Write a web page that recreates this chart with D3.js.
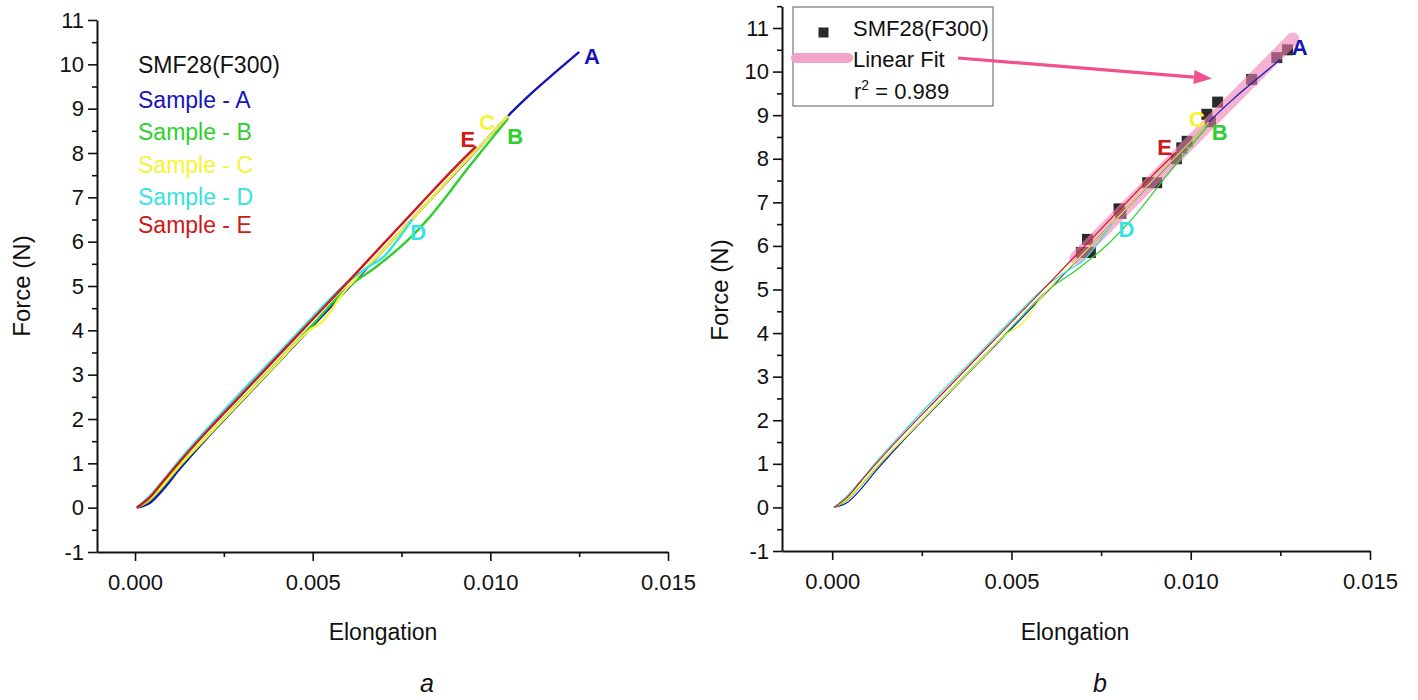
<!DOCTYPE html>
<html><head><meta charset="utf-8">
<script src="https://cdn.jsdelivr.net/npm/d3@7"></script>
<style>
body{margin:0;background:#fff}
svg{display:block}
text{font-family:"Liberation Sans",Arial,sans-serif}
</style>
</head><body>
<svg id="c" width="1418" height="700"></svg>
<script>
// ---------- data ----------
const sampleNames = ["Sample - A","Sample - B","Sample - C","Sample - D","Sample - E"];
const sampleLetters = ["A","B","C","D","E"];
const sampleColors = ["#1616b8","#2ed02e","#f4f430","#36e2e2","#d01818"];

const sampleA = [[0.00005,0],[0.0004,0.1],[0.0008,0.42],[0.0012,0.82],[0.002,1.55],[0.003,2.4],[0.004,3.25],[0.005,4.1],[0.006,4.95],[0.007,5.82],[0.008,6.68],[0.009,7.54],[0.0100,8.4],[0.0106,8.92],[0.0112,9.38],[0.0118,9.8],[0.0125,10.28]];
const sampleB = [[0.00005,0],[0.0004,0.16],[0.0008,0.5],[0.0012,0.88],[0.002,1.58],[0.003,2.43],[0.004,3.28],[0.005,4.13],[0.006,4.98],[0.0068,5.44],[0.0077,6.05],[0.0083,6.56],[0.0094,7.69],[0.0105,8.78]];
const sampleC = [[0.00005,0],[0.0004,0.18],[0.0008,0.52],[0.0012,0.9],[0.002,1.58],[0.003,2.42],[0.004,3.26],[0.0049,4.0],[0.0053,4.22],[0.0058,4.78],[0.007,5.82],[0.008,6.68],[0.009,7.55],[0.0100,8.4],[0.0105,8.84]];
const sampleD = [[0.00005,0],[0.0004,0.25],[0.0008,0.62],[0.0012,1.02],[0.002,1.75],[0.003,2.62],[0.004,3.45],[0.005,4.3],[0.006,5.1],[0.0066,5.45],[0.007,5.66],[0.0074,6.05],[0.0078,6.5]];
const sampleE = [[0.00005,0],[0.0004,0.22],[0.0008,0.6],[0.0012,0.98],[0.002,1.7],[0.003,2.55],[0.004,3.4],[0.005,4.25],[0.006,5.1],[0.007,5.96],[0.008,6.82],[0.009,7.67],[0.0096,8.15]];
const sampleSeries = [sampleA, sampleB, sampleC, sampleD, sampleE];

// end-label positions (data coords) for each panel
const labelPosA = [[0.01286,10.17],[0.0107,8.37],[0.00991,8.68],[0.00797,6.2],[0.00937,8.3]];
const labelPosB = [[0.01304,10.55],[0.01081,8.6],[0.01017,8.9],[0.00821,6.38],[0.00927,8.26]];

// SMF28(F300) points and linear fit (panel b)
const fitPoints = [[0.00695,5.85],[0.00712,6.15],[0.0072,5.85],[0.0080,6.85],[0.00805,6.75],[0.0088,7.45],[0.00905,7.45],[0.0096,8.0],[0.00975,8.25],[0.0099,8.4],[0.01045,9.02],[0.01055,8.85],[0.01075,9.3],[0.0117,9.82],[0.0124,10.32],[0.0127,10.5]];
const fitLine = [[0.0068,5.72],[0.01285,10.75]];
const fitR2 = "0.989";
const arrowTip = [0.01059,9.84];

const xTicks = [0,0.005,0.010,0.015];
const xMinor = [0.0025,0.0075,0.0125];
const yTicks = [-1,0,1,2,3,4,5,6,7,8,9,10,11];
const yMinorA = [-0.5,0.5,1.5,2.5,3.5,4.5,5.5,6.5,7.5,8.5,9.5,10.5];
const yMinorB = [-0.5,0.5,1.5,2.5,3.5,4.5,5.5,6.5,7.5,8.5,9.5,10.5,11.5];

// ---------- drawing ----------
const svg = d3.select("#c");
const font = '"Liberation Sans",Arial,sans-serif';

function panel(cfg){
  const g = svg.append("g");
  const x = d3.scaleLinear().domain(cfg.xd).range(cfg.xr);
  const y = d3.scaleLinear().domain(cfg.yd).range(cfg.yr);

  // minor ticks
  g.append("g").attr("transform",`translate(0,${cfg.yr[0]})`)
    .call(d3.axisBottom(x).tickValues(xMinor).tickSize(5).tickFormat("").tickSizeOuter(0))
    .call(a=>a.select(".domain").remove());
  g.append("g").attr("transform",`translate(${cfg.xr[0]},0)`)
    .call(d3.axisLeft(y).tickValues(cfg.yMinor).tickSize(5).tickFormat("").tickSizeOuter(0))
    .call(a=>a.select(".domain").remove());

  g.append("g").attr("transform",`translate(0,${cfg.yr[0]})`)
    .call(d3.axisBottom(x).tickValues(xTicks).tickSize(9).tickPadding(13).tickFormat(d3.format(".3f")).tickSizeOuter(0));
  g.append("g").attr("transform",`translate(${cfg.xr[0]},0)`)
    .call(d3.axisLeft(y).tickValues(yTicks).tickSize(9).tickPadding(4).tickFormat(d=>String(d)).tickSizeOuter(0));
  g.selectAll(".tick line").attr("stroke","#111").attr("stroke-width",1.6);
  g.selectAll(".domain").attr("stroke","#111").attr("stroke-width",2);
  g.selectAll(".tick text").attr("font-family",font).attr("font-size",22).attr("fill","#111");

  g.append("text").attr("transform",`translate(${cfg.ylabX},${cfg.ylabY}) rotate(-90)`)
    .attr("text-anchor","middle").attr("font-size",24).attr("fill","#111").text("Force (N)");
  g.append("text").attr("x",cfg.xlabX).attr("y",640).attr("text-anchor","middle")
    .attr("font-size",23).attr("fill","#111").text("Elongation");
  g.append("text").attr("x",cfg.capX).attr("y",692).attr("text-anchor","middle")
    .attr("font-size",25).attr("font-style","italic").attr("fill","#111").text(cfg.cap);
  return {g,x,y};
}

// ----- panel a -----
const pa = panel({xd:[-0.00107,0.015], xr:[97,668], yd:[-1,11], yr:[552,20], yMinor:yMinorA,
  ylabX:30, ylabY:286, xlabX:383, capX:427, cap:"a"});
{
  const {g,x,y} = pa;
  const line = d3.line().x(d=>x(d[0])).y(d=>y(d[1])).curve(d3.curveMonotoneX);
  [0,1,2,3,4].forEach(i=>{
    g.append("path").datum(sampleSeries[i]).attr("d",line).attr("fill","none")
      .attr("stroke",sampleColors[i]).attr("stroke-width",2.4).attr("stroke-linejoin","round");
  });
  labelPosA.forEach((p,i)=>{
    g.append("text").attr("x",x(p[0])).attr("y",y(p[1])).attr("text-anchor","middle")
      .attr("dominant-baseline","central").attr("font-size",22).attr("font-weight","bold")
      .attr("fill",sampleColors[i]).text(sampleLetters[i]);
  });
  const lb = [108,140,173,205,233];
  g.append("text").attr("x",138).attr("y",73).attr("font-size",23).attr("fill","#111").text("SMF28(F300)");
  sampleNames.forEach((n,i)=>{
    g.append("text").attr("x",138).attr("y",lb[i]).attr("font-size",23).attr("fill",sampleColors[i]).text(n);
  });
}

// ----- panel b -----
const pb = panel({xd:[-0.0014,0.015], xr:[782,1370], yd:[-1,11.5], yr:[551,6.2], yMinor:yMinorB,
  ylabX:728, ylabY:290, xlabX:1075, capX:1100, cap:"b"});
{
  const {g,x,y} = pb;
  const line = d3.line().x(d=>x(d[0])).y(d=>y(d[1])).curve(d3.curveMonotoneX);
  // markers
  g.selectAll("rect.pt").data(fitPoints).join("rect").attr("class","pt")
    .attr("x",d=>x(d[0])-5.5).attr("y",d=>y(d[1])-5.5).attr("width",11).attr("height",11)
    .attr("fill","#2a2a2a");
  // linear fit band
  g.append("path").datum(fitLine).attr("d",d3.line().x(d=>x(d[0])).y(d=>y(d[1])))
    .attr("stroke","#ee7fb4").attr("stroke-opacity",0.6).attr("stroke-width",13)
    .attr("stroke-linecap","round").attr("fill","none");
  [0,1,2,3,4].forEach(i=>{
    g.append("path").datum(sampleSeries[i]).attr("d",line).attr("fill","none")
      .attr("stroke",sampleColors[i]).attr("stroke-width",1.2).attr("stroke-linejoin","round");
  });
  labelPosB.forEach((p,i)=>{
    g.append("text").attr("x",x(p[0])).attr("y",y(p[1])).attr("text-anchor","middle")
      .attr("dominant-baseline","central").attr("font-size",22).attr("font-weight","bold")
      .attr("fill",sampleColors[i]).text(sampleLetters[i]);
  });
  // legend box
  g.append("rect").attr("x",793).attr("y",7).attr("width",200).attr("height",99)
    .attr("fill","#fff").attr("stroke","#777").attr("stroke-width",1.2);
  g.append("rect").attr("x",818.5).attr("y",27.5).attr("width",10).attr("height",10).attr("fill","#2a2a2a");
  g.append("text").attr("x",853).attr("y",36).attr("font-size",22).attr("fill","#111").text("SMF28(F300)");
  g.append("line").attr("x1",796).attr("x2",848).attr("y1",58).attr("y2",58)
    .attr("stroke","#f4a3c8").attr("stroke-width",10).attr("stroke-linecap","round");
  g.append("text").attr("x",853).attr("y",67).attr("font-size",22).attr("fill","#111").text("Linear Fit");
  const r2 = g.append("text").attr("x",854).attr("y",99).attr("font-size",22).attr("fill","#111");
  r2.append("tspan").text("r");
  r2.append("tspan").attr("dy",-9).attr("font-size",14).text("2");
  r2.append("tspan").attr("dy",9).text(" = " + fitR2);
  // arrow
  const tx = x(arrowTip[0]), ty = y(arrowTip[1]);
  const sx = 958, sy = 58;
  const ang = Math.atan2(ty-sy, tx-sx);
  const hl = 18, hw = 7;
  const bx = tx - hl*Math.cos(ang), by = ty - hl*Math.sin(ang);
  g.append("line").attr("x1",sx).attr("y1",sy).attr("x2",bx).attr("y2",by)
    .attr("stroke","#f0508c").attr("stroke-width",3.2);
  g.append("polygon").attr("points",[
    [tx,ty],
    [bx + hw*Math.sin(ang), by - hw*Math.cos(ang)],
    [bx - hw*Math.sin(ang), by + hw*Math.cos(ang)]
  ].map(p=>p.join(",")).join(" ")).attr("fill","#f0508c");
}
</script>
</body></html>
